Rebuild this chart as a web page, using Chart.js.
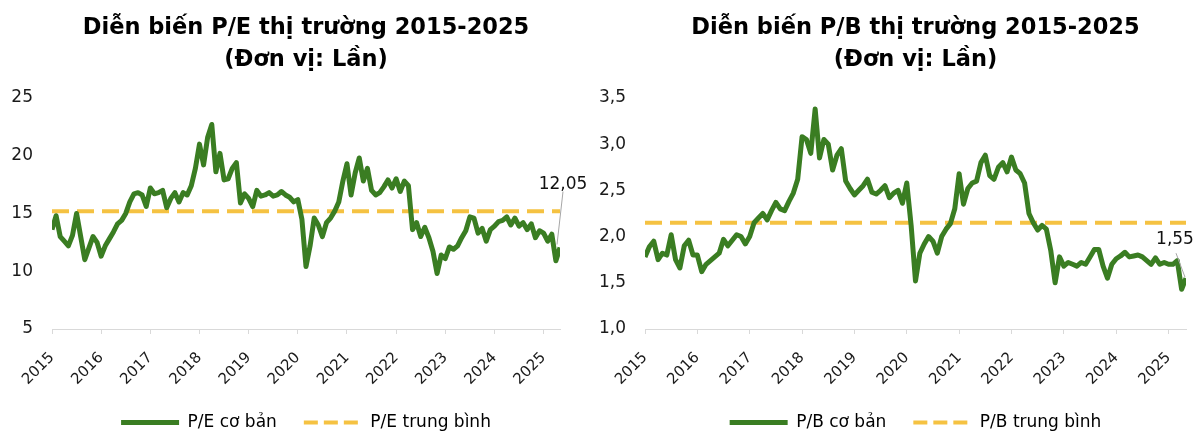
<!DOCTYPE html>
<html>
<head>
<meta charset="utf-8">
<script src="https://cdn.jsdelivr.net/npm/chart.js@4.4.1/dist/chart.umd.min.js"></script>
<style>
  html, body { margin: 0; padding: 0; background: #fff; }
  #wrap { position: relative; width: 1200px; height: 441px; }
  canvas { position: absolute; top: 0; }
  #pe { left: 0; }
  #pb { left: 595px; }
</style>
</head>
<body>
<div id="wrap">
  <canvas id="pe" width="595" height="441"></canvas>
  <canvas id="pb" width="605" height="441"></canvas>
</div>
<script>
// monthly readings, first value = Jan 2015
const years = [2015, 2016, 2017, 2018, 2019, 2020, 2021, 2022, 2023, 2024, 2025];

const peBase = [
  13.6, 14.8, 13.0, 12.6, 12.2, 13.1, 15.0, 13.0, 11.0, 12.0, 13.0, 12.5, // 2015
  11.3, 12.2, 12.8, 13.4, 14.1, 14.4, 15.0, 16.0, 16.7, 16.8, 16.6, 15.6, // 2016
  17.2, 16.7, 16.8, 17.0, 15.5, 16.3, 16.8, 16.0, 16.8, 16.6, 17.4, 18.9, // 2017
  21.0, 19.2, 21.6, 22.7, 18.6, 20.2, 17.9, 18.0, 18.9, 19.4, 15.9, 16.7, // 2018
  16.3, 15.6, 17.0, 16.5, 16.6, 16.8, 16.5, 16.6, 16.9, 16.6, 16.4, 16.0, // 2019
  16.2, 14.5, 10.4, 12.2, 14.6, 14.0, 13.0, 14.2, 14.6, 15.2, 16.0, 17.8, // 2020
  19.3, 16.6, 18.5, 19.8, 17.8, 18.9, 17.0, 16.6, 16.8, 17.3, 17.9, 17.2, // 2021
  18.0, 16.9, 17.8, 17.4, 13.6, 14.2, 13.0, 13.8, 12.9, 11.7, 9.8, 11.4,  // 2022
  11.1, 12.1, 11.9, 12.2, 12.9, 13.5, 14.7, 14.6, 13.3, 13.7, 12.6, 13.6, // 2023
  13.9, 14.3, 14.4, 14.7, 14.0, 14.6, 13.9, 14.2, 13.6, 14.1, 12.9, 13.5, // 2024
  13.3, 12.6, 13.2, 10.9, 12.05                                          // 2025
];
const peAvg = 15.2;

const pbBase = [
  1.78, 1.89, 1.95, 1.75, 1.82, 1.80, 2.02, 1.75, 1.66, 1.90, 1.96, 1.80, // 2015
  1.80, 1.62, 1.70, 1.74, 1.78, 1.82, 1.97, 1.90, 1.96, 2.02, 2.00, 1.92, // 2016
  2.00, 2.15, 2.20, 2.25, 2.18, 2.28, 2.37, 2.30, 2.28, 2.38, 2.47, 2.62, // 2017
  3.08, 3.05, 2.90, 3.38, 2.85, 3.05, 3.00, 2.72, 2.88, 2.95, 2.60, 2.52, // 2018
  2.45, 2.50, 2.55, 2.62, 2.48, 2.46, 2.50, 2.55, 2.42, 2.47, 2.50, 2.36, // 2019
  2.58, 2.12, 1.52, 1.82, 1.92, 2.00, 1.95, 1.82, 2.00, 2.08, 2.14, 2.30, // 2020
  2.68, 2.35, 2.52, 2.58, 2.60, 2.80, 2.88, 2.66, 2.62, 2.75, 2.80, 2.70, // 2021
  2.86, 2.72, 2.68, 2.58, 2.25, 2.15, 2.07, 2.12, 2.08, 1.85, 1.50, 1.78, // 2022
  1.68, 1.72, 1.70, 1.68, 1.72, 1.70, 1.78, 1.86, 1.86, 1.68, 1.55, 1.70, // 2023
  1.76, 1.79, 1.83, 1.78, 1.79, 1.80, 1.78, 1.74, 1.70, 1.77, 1.70, 1.72, // 2024
  1.70, 1.70, 1.74, 1.43, 1.55                                            // 2025
];
const pbAvg = 2.15;

const GREEN = '#3a7d22';
const YELLOW = '#f5c242';
const FONT = '"DejaVu Sans", sans-serif';

const toPoints = vals => vals.map((v, i) => ({ x: years[0] + i / 12, y: v }));
const comma = (v, d) => v.toFixed(d).replace('.', ',');

// last value callout with a thin leader line
const lastLabel = {
  id: 'lastLabel',
  afterDatasetsDraw(chart, args, o) {
    const meta = chart.getDatasetMeta(0);
    const pt = meta.data[meta.data.length - 1];
    const ctx = chart.ctx;
    ctx.save();
    ctx.strokeStyle = '#a6a6a6';
    ctx.lineWidth = 1;
    ctx.beginPath();
    ctx.moveTo(pt.x + o.line[0], pt.y + o.line[1]);
    ctx.lineTo(pt.x + o.line[2], pt.y + o.line[3]);
    ctx.stroke();
    ctx.font = '17px ' + FONT;
    ctx.fillStyle = '#111';
    ctx.textAlign = 'center';
    ctx.textBaseline = 'middle';
    ctx.fillText(o.text, pt.x + o.at[0], pt.y + o.at[1]);
    ctx.restore();
  }
};

function legendItems(chart) {
  return chart.data.datasets.map((ds, i) => ({
    text: ds.label,
    datasetIndex: i,
    hidden: false,
    pointStyle: 'line',
    strokeStyle: ds.borderColor,
    fillStyle: ds.borderColor,
    lineWidth: ds.borderWidth,
    lineDash: ds.borderDash ? [14, 6] : [],
    lineCap: 'butt'
  }));
}

function makeChart(id, c) {
  const lastX = years[0] + (c.base.length - 1) / 12;
  return new Chart(document.getElementById(id), {
    type: 'line',
    data: {
      datasets: [
        {
          label: c.baseLabel,
          data: toPoints(c.base),
          borderColor: GREEN,
          backgroundColor: GREEN,
          borderWidth: 5,
          borderJoinStyle: 'round',
          pointRadius: 0,
          tension: 0
        },
        {
          label: c.avgLabel,
          data: [{ x: years[0], y: c.avg }, { x: lastX, y: c.avg }],
          borderColor: YELLOW,
          backgroundColor: YELLOW,
          borderWidth: 4,
          borderDash: [17, 8],
          pointRadius: 0
        }
      ]
    },
    options: {
      responsive: false,
      animation: false,
      layout: { padding: { left: 0, right: c.padRight, top: 0, bottom: 0 } },
      plugins: {
        title: {
          display: true,
          fullSize: false,
          text: c.title,
          color: '#000',
          font: { family: FONT, size: 22.5, weight: 'bold', lineHeight: 1.42 },
          padding: { top: 12, bottom: 22 }
        },
        legend: {
          position: 'bottom',
          fullSize: false,
          labels: {
            usePointStyle: true,
            pointStyleWidth: 58,
            padding: 27,
            color: '#1a1a1a',
            font: { family: FONT, size: 17 },
            generateLabels: legendItems
          }
        },
        tooltip: { enabled: false },
        lastLabel: c.callout
      },
      scales: {
        x: {
          type: 'linear',
          min: years[0],
          max: lastX,
          afterBuildTicks: s => { s.ticks = years.map(v => ({ value: v })); },
          afterFit: s => { s.height = 58; },
          ticks: {
            autoSkip: false,
            minRotation: 45,
            maxRotation: 45,
            padding: 15,
            color: '#1a1a1a',
            font: { family: FONT, size: 15 },
            callback: v => String(v)
          },
          grid: { drawOnChartArea: false, drawTicks: true, tickLength: 5, color: '#d9d9d9' },
          border: { color: '#d9d9d9' }
        },
        y: {
          min: c.yMin,
          max: c.yMax,
          afterFit: s => { s.width = c.yWidth; },
          ticks: {
            stepSize: c.yStep,
            padding: 19,
            color: '#1a1a1a',
            font: { family: FONT, size: 17 },
            callback: v => comma(v, c.yDec)
          },
          grid: { display: false, drawTicks: false },
          border: { display: false }
        }
      }
    },
    plugins: [lastLabel]
  });
}

makeChart('pe', {
  title: ['Diễn biến P/E thị trường 2015-2025', '(Đơn vị: Lần)'],
  baseLabel: 'P/E cơ bản',
  avgLabel: 'P/E trung bình',
  base: peBase,
  avg: peAvg,
  yMin: 5, yMax: 25, yStep: 5, yDec: 0,
  padRight: 35, yWidth: 52,
  callout: { text: comma(peBase[peBase.length - 1], 2), line: [3, -56, -3, -3], at: [3, -63] }
});

makeChart('pb', {
  title: ['Diễn biến P/B thị trường 2015-2025', '(Đơn vị: Lần)'],
  baseLabel: 'P/B cơ bản',
  avgLabel: 'P/B trung bình',
  base: pbBase,
  avg: pbAvg,
  yMin: 1, yMax: 3.5, yStep: 0.5, yDec: 1,
  padRight: 14, yWidth: 50,
  callout: { text: comma(pbBase[pbBase.length - 1], 2), line: [-10, -25, -1, -1], at: [-11, -39] }
});
</script>
</body>
</html>
